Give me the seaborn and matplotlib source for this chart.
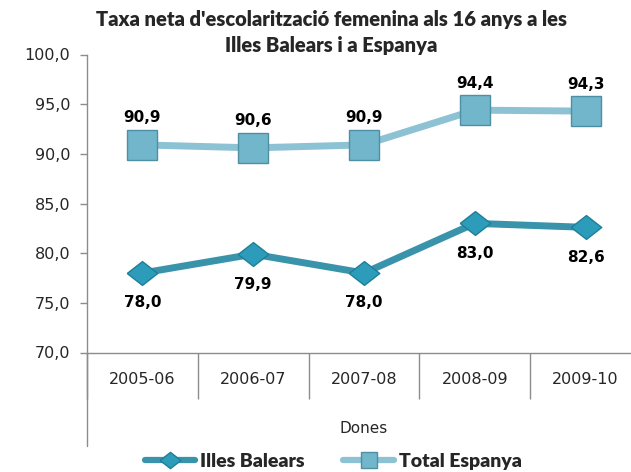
import matplotlib
matplotlib.use("Agg")
import matplotlib.pyplot as plt
import numpy as np
import pandas as pd
import seaborn as sns
from matplotlib.lines import Line2D
from matplotlib.ticker import FuncFormatter

# Data
years = ["2005-06", "2006-07", "2007-08", "2008-09", "2009-10"]
illes_balears = [78.0, 79.9, 78.0, 83.0, 82.6]
total_espanya = [90.9, 90.6, 90.9, 94.4, 94.3]

title = "Taxa neta d'escolarització femenina als 16 anys a les\nIlles Balears i a Espanya"

sns.set_style("white")
plt.rcParams['font.family'] = ['DejaVu Sans']

df = pd.DataFrame({"Curs": years, "Illes Balears": illes_balears, "Total Espanya": total_espanya})

fig = plt.figure(figsize=(6.31, 4.72), dpi=100)
ax = fig.add_axes([87 / 631, 119.5 / 472, 554 / 631, 298 / 472])

c_ib_line = "#3993aa"
c_ib_mark = "#2c9cba"
c_es_line = "#8dc2d4"
c_es_mark = "#72b6cb"

diamond = [(-1, 0), (0, 0.78), (1, 0), (0, -0.78), (-1, 0)]

sns.lineplot(data=df, x="Curs", y="Total Espanya", ax=ax, color=c_es_line, linewidth=5,
             marker="s", markersize=21, markerfacecolor=c_es_mark, markeredgecolor="#4f8fa3",
             markeredgewidth=1.0, sort=False)
sns.lineplot(data=df, x="Curs", y="Illes Balears", ax=ax, color=c_ib_line, linewidth=5,
             marker=diamond, markersize=22, markerfacecolor=c_ib_mark, markeredgecolor="#1f7f98",
             markeredgewidth=1.0, sort=False)

# data labels
for i, v in enumerate(total_espanya):
    ax.annotate(f"{v:.1f}".replace(".", ","), (i, v), xytext=(0, 19.5), textcoords="offset points",
                ha="center", va="center", fontsize=11, fontweight="bold", color="black")
for i, v in enumerate(illes_balears):
    ax.annotate(f"{v:.1f}".replace(".", ","), (i, v), xytext=(0, -21.5), textcoords="offset points",
                ha="center", va="center", fontsize=11, fontweight="bold", color="black")

ax.set_ylim(70, 100)
ax.set_yticks(np.arange(70, 101, 5))
ax.yaxis.set_major_formatter(FuncFormatter(lambda v, p: f"{v:.1f}".replace(".", ",")))
ax.set_xlim(-0.5, 4.5)
ax.set_xticks(range(len(years)))
ax.set_xticklabels(years)
ax.set_xticks(np.arange(-0.5, 5, 1), minor=True)

grey = "#8c8c8c"
ax.tick_params(axis="y", length=5, width=1, color=grey, labelsize=11.5, pad=7, direction="out", left=True)
ax.tick_params(axis="x", which="major", length=0, labelsize=11.5, pad=14)
ax.tick_params(axis="x", which="minor", length=33, width=1, color=grey, direction="out", bottom=True)

for s in ["top", "right"]:
    ax.spines[s].set_visible(False)
for s in ["left", "bottom"]:
    ax.spines[s].set_color(grey)
    ax.spines[s].set_linewidth(1)

# left axis line continues below the category labels
ax.add_line(Line2D([0, 0], [0, -93.5 / 298], transform=ax.transAxes, color=grey, lw=1, clip_on=False))

ax.set_xlabel("Dones", fontsize=11, labelpad=13)
ax.set_ylabel("")

fig.text(0.525, 0.979, title, ha="center", va="top", fontsize=14.5, fontweight="heavy",
         family="Lato", linespacing=1.45)

handles = [
    Line2D([], [], color=c_ib_line, lw=4.5, marker=diamond, markersize=15,
           markerfacecolor=c_ib_mark, markeredgecolor="#1f7f98"),
    Line2D([], [], color=c_es_line, lw=4.5, marker="s", markersize=12,
           markerfacecolor=c_es_mark, markeredgecolor="#4f8fa3"),
]
fig.legend(handles, ["Illes Balears", "Total Espanya"], loc="center", bbox_to_anchor=(0.528, 0.022),
           ncol=2, frameon=False, handlelength=2.6, columnspacing=2.0, handletextpad=0.25,
           prop={"family": "Lato", "weight": "heavy", "size": 14})

fig.savefig("out.png", dpi=100)
